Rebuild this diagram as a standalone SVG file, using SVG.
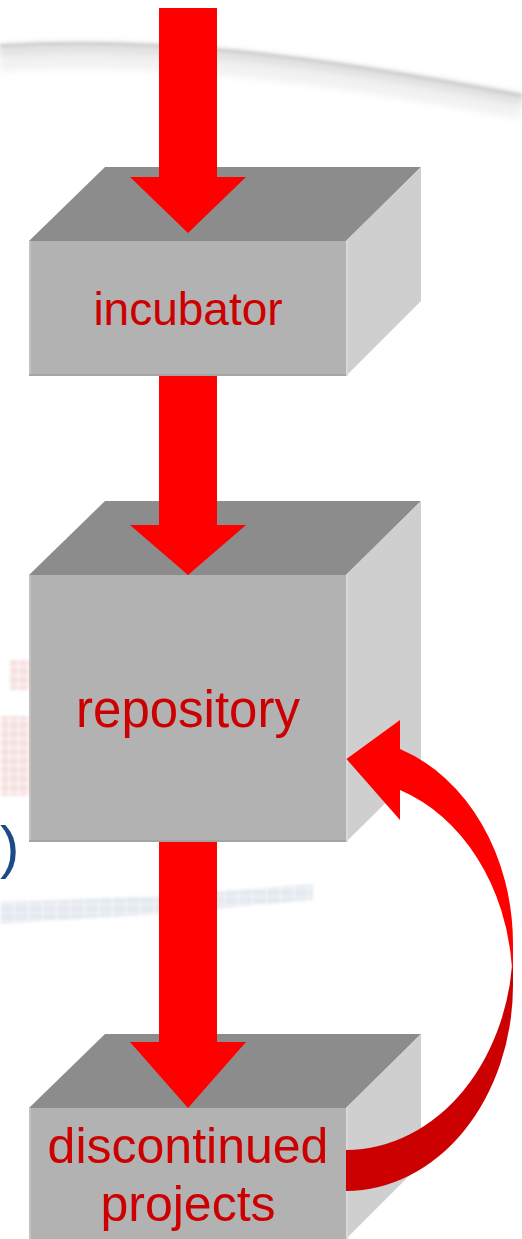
<svg xmlns="http://www.w3.org/2000/svg" width="522" height="1239" viewBox="0 0 522 1239">
<style>
.top{fill:#8c8c8c}
.front{fill:#b2b2b2}
.side{fill:#cfcfcf}
.fl{fill:#c2c2c2}
.fb{fill:#a4a4a4}
.se{fill:#d9d9d9}
.lbl{font-family:"Liberation Sans",Arial,sans-serif;fill:#cc0000;text-anchor:middle}
.arr{fill:#ff0000}
.arrd{fill:#cc0000}
</style>
<defs>
<filter id="b1" x="-10%" y="-100%" width="120%" height="300%"><feGaussianBlur stdDeviation="1.5"/></filter>
<filter id="b3" x="-10%" y="-100%" width="120%" height="300%"><feGaussianBlur stdDeviation="3.5"/></filter>
<filter id="b2" x="-50%" y="-50%" width="200%" height="200%"><feGaussianBlur stdDeviation="1.5"/></filter>
<pattern id="grid" width="9" height="9" patternUnits="userSpaceOnUse">
<rect width="9" height="9" fill="#f1cccc"/>
<path d="M0 0.5H9M0.5 0V9" stroke="#ffffff" stroke-width="1"/>
</pattern>
<pattern id="bgrid" width="14" height="8" patternUnits="userSpaceOnUse">
<rect width="14" height="8" fill="#d3dbe6"/>
<path d="M0 0.5H14M0.5 0V8" stroke="#f4f6f9" stroke-width="1"/>
</pattern>
</defs>
<rect width="522" height="1239" fill="#ffffff"/>
<g id="background">
<path d="M0,60 C150,51 300,67 522,108" fill="none" stroke="#ececec" stroke-width="22" filter="url(#b3)" opacity="0.7"/>
<path d="M0,50 C150,41 300,57 522,99" fill="none" stroke="#d6d6d6" stroke-width="10" filter="url(#b3)" opacity="0.7"/>
<path d="M0,46 C150,37 300,53 522,96" fill="none" stroke="#c8c8c8" stroke-width="4" filter="url(#b1)" opacity="0.75"/>
<g filter="url(#b2)" opacity="0.6">
<rect x="9" y="660" width="22" height="30" fill="url(#grid)"/>
<rect x="0" y="716" width="31" height="80" fill="url(#grid)"/>
</g>
<path d="M0,902 L160,896 L313,884 L313,900 L160,914 L0,924 Z" fill="url(#bgrid)" filter="url(#b2)" opacity="0.6"/>
<text x="0" y="867" font-family="'Liberation Sans',Arial,sans-serif" font-size="58" fill="#1c4a86">)</text>
</g>
<g id="node-incubator">
<polygon class="top" points="29,241 105,167 421,167 346,241"/>
<polygon class="side" points="346,241 421,167 421,301 346,376"/>
<rect class="front" x="29" y="241" width="317" height="135"/>
<rect class="fl" x="29" y="241" width="2" height="135"/>
<rect class="fb" x="29" y="374" width="317" height="2"/>
<rect class="se" x="346" y="241" width="2" height="135"/>
<text class="lbl" x="188" y="325" font-size="46">incubator</text>
</g>
<g id="node-repository">
<polygon class="top" points="29,575 105,501 421,501 346,575"/>
<polygon class="side" points="346,575 421,501 421,768 346,842"/>
<rect class="front" x="29" y="575" width="317" height="267"/>
<rect class="fl" x="29" y="575" width="2" height="267"/>
<rect class="fb" x="29" y="840" width="317" height="2"/>
<rect class="se" x="346" y="575" width="2" height="267"/>
<text class="lbl" x="188" y="727" font-size="51">repository</text>
</g>
<g id="node-discontinued">
<polygon class="top" points="29,1108 105,1034 421,1034 346,1108"/>
<polygon class="side" points="346,1108 421,1034 421,1164 346,1239"/>
<rect class="front" x="29" y="1108" width="317" height="131"/>
<rect class="fl" x="29" y="1108" width="2" height="131"/>
<rect class="se" x="346" y="1108" width="2" height="131"/>
<text class="lbl" x="188" y="1163" font-size="50">discontinued</text>
<text class="lbl" x="188" y="1221" font-size="50">projects</text>
</g>
<g id="connectors">
<polygon class="arr" points="159,8 217,8 217,177 246,177 188,233 130,177 159,177"/>
<polygon class="arr" points="159,376 217,376 217,525 246,525 188,575 130,525 159,525"/>
<polygon class="arr" points="159,842 217,842 217,1042 246,1042 188,1108 130,1042 159,1042"/>
<path class="arrd" d="M513,944 A167,206 0 0 1 346,1150 L346,1191 A167,206 0 0 0 513,985 Z"/>
<path class="arr" d="M400,749 A167,206 0 0 1 513,944 L513,968 L512,968 A167,206 0 0 0 400,790 Z"/>
<polygon class="arr" points="400,720 346.5,759 400,820"/>
</g>
</svg>
